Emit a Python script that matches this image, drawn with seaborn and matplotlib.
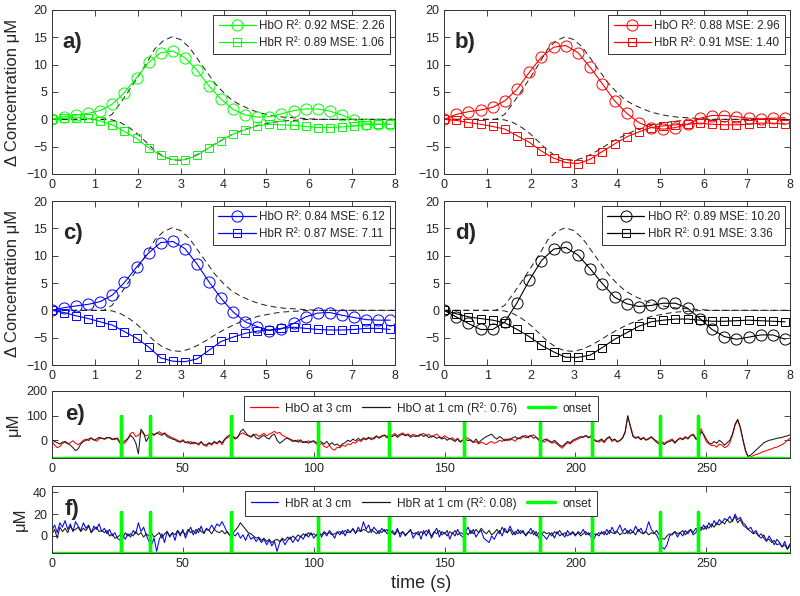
import numpy as np
import matplotlib
matplotlib.use("Agg")
import matplotlib.pyplot as plt
import seaborn as sns

# ---- HRF panels (a-d) ----
fs_hrf = 3.55                      # samples per second of the estimated HRF
t_hrf = np.arange(29) / fs_hrf
t_ref = np.arange(41) * 0.2        # "true" HRF, dashed

ref_hbo = [0, 0, 0, 0, 0, 0, 0,
           0.9, 3.0, 5.3, 7.7, 10.2, 12.9, 14.4, 15.1, 14.6, 13.2,
           11.0, 8.8, 6.6, 4.9, 3.5, 2.6, 1.9, 1.3, 0.9, 0.6,
           0.4, 0.3, 0.2, 0.1, 0.0,
           0, 0, 0, 0, 0, 0, 0, 0, 0]
ref_hbr = [0, 0, 0, 0, 0, 0, 0,
           -0.1, -0.6, -1.5, -2.7, -4.2, -5.7, -6.8, -7.4, -7.5, -7.1,
           -6.4, -5.5, -4.5, -3.6, -2.8, -2.1, -1.6, -1.1, -0.8, -0.5,
           -0.3, -0.2, -0.1, 0, 0,
           0, 0, 0, 0, 0, 0, 0, 0, 0]

a_hbo = [0, 0.5, 0.8, 1.1, 1.6, 2.8, 4.9, 7.6, 10.4, 12.2, 12.5, 11.3, 9.0, 6.1, 3.7,
         1.8, 0.8, 0.4, 0.5, 1.0, 1.6, 1.9, 1.9, 1.5, 0.8, -0.1, -0.8, -0.9, -0.9]
a_hbr = [0, 0.2, 0.3, 0.2, -0.3, -1.0, -2.2, -3.5, -5.2, -6.6, -7.4, -7.4, -6.6, -5.2, -3.9,
         -2.7, -1.9, -1.2, -0.9, -1.0, -1.1, -1.3, -1.5, -1.5, -1.4, -1.2, -1.0, -0.9, -0.9]
b_hbo = [0, 0.9, 1.4, 1.7, 2.2, 3.4, 5.5, 8.6, 11.4, 13.2, 13.5, 12.2, 9.5, 6.5, 3.4,
         1.1, -0.6, -1.5, -1.8, -1.5, -0.9, 0.2, 0.7, 0.7, 0.5, 0.2, 0.1, 0.2, 0.3]
b_hbr = [0, -0.2, -0.6, -0.9, -1.3, -1.8, -3.0, -4.2, -5.8, -7.1, -7.9, -8.1, -7.3, -5.9, -4.5,
         -3.2, -2.3, -1.5, -1.2, -1.0, -0.9, -0.7, -0.9, -1.0, -1.0, -0.9, -0.7, -0.7, -0.9]
c_hbo = [0, 0.5, 0.8, 1.1, 1.6, 2.8, 5.1, 7.9, 10.5, 12.4, 12.6, 11.3, 8.5, 5.2, 2.2,
         -0.3, -2.1, -3.0, -3.7, -3.4, -2.4, -1.2, -0.5, -0.4, -0.9, -1.3, -1.7, -1.8, -1.8]
c_hbr = [0, -0.4, -1.0, -1.5, -2.1, -2.7, -3.9, -5.1, -6.7, -8.7, -9.3, -9.4, -8.9, -7.3, -5.7,
         -4.9, -4.2, -3.8, -3.6, -3.3, -3.1, -3.3, -3.5, -3.6, -3.6, -3.5, -3.3, -3.3, -3.5]
d_hbo = [0, -1.2, -2.4, -3.5, -3.5, -2.1, 1.4, 5.5, 9.1, 11.2, 11.5, 10.1, 7.6, 4.9, 2.4,
         1.2, 0.7, 0.9, 1.3, 1.3, 0.4, -1.5, -3.5, -4.8, -5.3, -4.9, -4.5, -4.5, -5.3]
d_hbr = [0, -0.6, -1.2, -1.5, -1.8, -2.3, -3.5, -4.8, -6.4, -7.6, -8.6, -8.6, -8.2, -6.8, -5.3,
         -4.1, -2.9, -2.1, -1.8, -1.6, -1.6, -1.8, -2.0, -2.0, -1.9, -1.8, -1.9, -2.0, -2.1]

hrf_tags = ["a)", "b)", "c)", "d)"]
hrf_colors = ["#00ff00", "#ff0000", "#0000ff", "#000000"]
hbo_labels = ["HbO R²: 0.92 MSE: 2.26", "HbO R²: 0.88 MSE: 2.96",
              "HbO R²: 0.84 MSE: 6.12", "HbO R²: 0.89 MSE: 10.20"]
hbr_labels = ["HbR R²: 0.89 MSE: 1.06", "HbR R²: 0.91 MSE: 1.40",
              "HbR R²: 0.87 MSE: 7.11", "HbR R²: 0.91 MSE: 3.36"]

# ---- time series panels (e, f), one value per second ----
t_sec = np.arange(283)
onset_times = [26.3, 37.3, 68.5, 101.8, 128.6, 157.6, 186.3, 206.2, 232.3, 246.7]

hbo_3cm = [
    -5, -20, -30, -25, -12, -8, -15, -10, -2, -12,
    -18, -10, 0, 5, -2, 8, 3, -4, 6, 10,
    4, 8, 12, 6, 2, 10, -8, -15, -10, 5,
    28, 32, 15, 20, 35, 25, 18, 22, 30, 24,
    28, 35, 26, 30, 22, 15, 10, 5, 0, -5,
    2, -8, -12, -5, -15, -10, -20, -8, -18, -25,
    -12, -20, -8, -15, -5, -18, 2, 10, 15, 20,
    8, 15, 25, 30, 22, 18, 12, 20, 25, 15,
    22, 28, 18, 25, 30, 36, 28, 32, 20, 15,
    10, 5, 0, -5, 2, -8, -5, -10, -2, -8,
    -5, -15, -20, -12, -25, -30, -20, -35, -40, -28,
    -30, -20, -25, -15, -18, -8, -12, 0, -5, 5,
    2, 8, 10, 5, 15, 12, 18, 22, 15, 25,
    20, 28, 18, 25, 30, 22, 26, 18, 24, 20,
    15, 22, 28, 18, 25, 12, 20, 25, 15, 10,
    18, 12, 5, 10, 0, 8, -5, 2, 12, 8,
    -2, -10, -5, -15, -8, -12, -18, -10, -5, -12,
    -8, 0, -5, 5, -2, 8, 2, -4, 10, 5,
    15, 20, 10, 18, 22, 12, 5, -2, -8, 0,
    -5, -12, -8, -15, -25, -32, -20, -10, -15, -5,
    0, 5, 10, 15, 20, 12, 18, 5, -2, -8,
    0, -10, 5, 12, -5, 2, -8, -2, 8, 30,
    95, 60, 20, 10, 15, 5, 12, 2, 8, 15,
    5, -2, -10, -5, -12, -5, 0, 5, -8, 2,
    10, 5, 15, 8, 20, 25, 10, 5, 48, 20,
    -5, -15, -22, -20, -28, -15, -20, -30, -25, -10,
    20, 60, 82, 50, 0, -45, -70, -68, -62, -58,
    -55, -50, -45, -42, -38, -35, -30, -28, -22, -18,
    -10, 0, 8]
hbo_1cm = [
    0, -5, -10, -15, -8, -5, -12, -20, -30, -42,
    -35, -15, -5, 0, 5, 10, 0, 5, 12, 8,
    5, 12, 10, 2, 8, 5, -12, -8, -2, 8,
    20, 10, -10, -55, 45, 30, -5, 15, 25, 20,
    30, 25, 20, 28, 15, 10, 5, 2, -5, -8,
    -2, -10, -5, -15, -8, -12, -15, -5, -20, -18,
    -10, -15, -5, -12, -2, -10, 5, 15, 22, 15,
    5, 12, 35, 45, 30, 20, 15, 25, 10, 5,
    15, 20, 10, 5, 20, 25, 0, -12, -5, 5,
    8, 2, -5, 0, -8, 2, -10, -5, -12, -5,
    -2, -10, 0, -8, -15, -5, -18, -10, -20, -15,
    -25, -15, -10, 0, -5, 5, -2, 8, 0, 10,
    5, 12, 2, 10, 18, 8, 15, 20, 10, 18,
    15, 22, 12, 20, 25, 18, 22, 12, 18, 15,
    20, 25, 15, 22, 10, 18, 15, 8, 12, 5,
    10, 0, 8, 2, -5, 5, -8, 0, 5, -2,
    2, -8, 5, -10, 0, 8, 15, 20, 25, 12,
    5, 15, 8, -2, 5, 0, 10, 15, 5, 12,
    18, 10, 15, 20, 8, 12, 0, -5, 2, 5,
    -2, -8, 0, -10, -20, -25, -15, -5, -10, 0,
    5, 10, 15, 12, 18, 10, 15, 2, -5, -2,
    5, -5, 8, 15, 0, 5, -5, 0, 10, 35,
    100, 55, 15, 8, 12, 2, 10, 0, 5, 12,
    2, -8, -15, -10, -18, -8, -5, 0, -12, 0,
    8, 2, 12, 5, 18, 22, 5, 0, 35, 25,
    5, -10, -15, -5, -12, 0, -8, -20, -10, 0,
    25, 65, 85, 55, 5, -40, -65, -60, -50, -40,
    -30, -20, -10, -5, 0, 2, 5, 8, 10, 12,
    15, 18, 22]
hbr_3cm = [
    5, 10, 3, 12, 8, 14, 6, 11, 4, 13,
    9, 5, 12, 7, 10, 3, 9, 6, 11, 4,
    7, 2, 6, 0, 3, -2, -4, 1, -3, 2,
    -1, 5, 2, 12, 4, 8, 1, -5, -8, -2,
    -14, -3, 2, -6, 4, -1, 3, -4, 5, 0,
    6, -2, 4, 8, 1, 6, 3, 9, 2, 7,
    5, 10, 6, 11, 9, 13, 8, 3, 1, 2,
    0, 3, -2, 1, -4, 2, -3, -1, -5, -2,
    -6, -3, -8, -4, -9, -5, -14, -6, -3, -8,
    -4, -1, -6, -2, -5, 0, -3, 2, -1, 3,
    -2, 1, 4, -1, 3, 0, 5, 2, -2, 4,
    1, 5, 0, 6, 3, 7, 2, 8, 4, 13,
    6, 10, 3, 8, 5, 2, 7, 4, 6, 1,
    5, 2, 7, -1, 4, 0, 3, 6, -2, 2,
    4, -3, 5, 0, 6, -2, 3, 7, -1, 4,
    2, 5, -3, 3, 0, 6, 1, -1, 4, 8,
    2, 6, -1, 3, 5, -2, -4, -6, 0, -3,
    2, 5, 0, 7, 3, 9, 4, 1, 6, 2,
    5, 0, 3, 7, 1, 4, -2, 2, 0, -3,
    1, 3, -2, 4, 0, 2, -1, 5, 1, 3,
    0, 4, 2, 6, 1, 3, -1, -3, 2, 0,
    4, 1, 6, 2, 8, 3, 5, 10, 4, 7,
    2, 6, 3, 9, 4, 7, 2, 5, 13, 6,
    3, 1, -4, -10, -12, -8, 0, 2, 4, -1,
    3, 0, 5, 2, 6, 1, 3, 8, 5, 10,
    6, 12, 8, 14, 10, 15, 12, 16, 14, 18,
    13, 20, 15, 17, 12, 10, 6, 8, 3, 5,
    0, 2, -2, -5, 0, -4, -8, -3, -6, -10,
    -5, -12, -7]
hbr_1cm = [
    2, 6, -2, 8, 4, 7, 3, 9, 5, 6,
    8, 4, 7, 5, 9, 3, 6, 8, 4, 5,
    3, 5, 0, 2, -2, -1, 1, -2, 3, 0,
    2, 0, 4, 1, 3, -1, 2, 0, 3, -1,
    1, 3, -2, 2, 4, 0, 3, 1, 5, 2,
    4, 1, 6, 3, 5, 2, 7, 4, 3, 6,
    5, 2, 6, 4, 3, 5, 2, 4, 0, 2,
    5, 8, 12, 9, 6, 3, 2, 0, -2, -1,
    -4, -2, -5, -3, -6, -4, -3, -5, -2, -4,
    -1, -3, 0, -2, 1, -1, 2, 0, 3, 1,
    2, 0, 3, 1, 4, 2, 3, 1, 2, 3,
    4, 2, 5, 3, 4, 6, 3, 5, 4, 6,
    5, 3, 6, 4, 2, 5, 3, 6, 2, 4,
    3, 1, 5, 2, 4, 1, 3, 5, 2, 3,
    1, 4, 2, 5, 3, 0, 4, 2, 5, 1,
    3, 0, 4, 2, 5, 1, 3, 2, 4, 1,
    5, 2, 6, 3, 7, 4, 2, 5, 1, 3,
    6, 2, 8, 4, 3, 6, 1, 4, 2, 5,
    3, 1, 4, 2, 5, 0, 3, 1, 4, 2,
    3, 0, 4, 2, 5, 1, 3, 0, 2, 4,
    1, 3, 0, 2, 4, 1, 3, 2, 1, 3,
    2, 4, 1, 5, 3, 2, 4, 1, 3, 2,
    5, 2, 4, 1, 6, 3, 2, 4, 1, 3,
    2, 5, 1, -2, -3, 0, 2, 1, 4, 2,
    3, 5, 1, 4, 6, 3, 7, 5, 8, 6,
    9, 7, 11, 8, 12, 10, 13, 11, 15, 12,
    14, 18, 12, 15, 10, 8, 6, 4, 2, 3,
    0, -2, 1, -4, -3, -6, -4, -8, -7, -10,
    -8, -12, -9]

sns.set_theme(style="ticks")
plt.rcParams["font.family"] = ["Liberation Sans", "DejaVu Sans"]
plt.rcParams.update({
    "xtick.direction": "in", "ytick.direction": "in",
    "xtick.top": True, "ytick.right": True,
    "xtick.major.size": 4, "ytick.major.size": 4,
    "xtick.major.width": 0.6, "ytick.major.width": 0.6,
    "xtick.labelsize": 9, "ytick.labelsize": 9,
    "axes.linewidth": 0.7, "axes.edgecolor": "#333333",
})

fig = plt.figure(figsize=(8, 5.96), dpi=100)
W, H = 800, 596


def box(x0, y0, x1, y1):
    return [x0 / W, 1 - y1 / H, (x1 - x0) / W, (y1 - y0) / H]


hrf_axes = [fig.add_axes(box(52, 10, 395, 174)), fig.add_axes(box(444, 10, 790, 174)),
            fig.add_axes(box(52, 201, 395, 365)), fig.add_axes(box(444, 201, 790, 365))]
hrf_data = [(a_hbo, a_hbr), (b_hbo, b_hbr), (c_hbo, c_hbr), (d_hbo, d_hbr)]

for k, ax in enumerate(hrf_axes):
    hbo, hbr = hrf_data[k]
    col = hrf_colors[k]
    for ref in (ref_hbo, ref_hbr):
        sns.lineplot(x=t_ref, y=ref, ax=ax, color="k", lw=0.7, linestyle=(0, (6, 4)))
    sns.lineplot(x=t_hrf, y=hbo, ax=ax, color=col, lw=0.8, marker="o", markersize=8,
                 markerfacecolor="none", markeredgecolor=col, markeredgewidth=0.7,
                 label=hbo_labels[k])
    sns.lineplot(x=t_hrf, y=hbr, ax=ax, color=col, lw=0.8, marker="s", markersize=6.3,
                 markerfacecolor="none", markeredgecolor=col, markeredgewidth=0.7,
                 label=hbr_labels[k])
    ax.set_xlim(0, 8)
    ax.set_ylim(-10, 20)
    ax.set_xticks(range(0, 9))
    ax.set_yticks(range(-10, 21, 5))
    ax.set_xlabel("")
    ax.text(0.25, 14, hrf_tags[k], fontsize=16, fontweight="bold", va="center")
    leg = ax.legend(loc="upper right", fontsize=8.4, handlelength=3.2, fancybox=False,
                    framealpha=1, edgecolor="#333333", borderaxespad=0.4,
                    labelspacing=0.45, borderpad=0.45, handletextpad=0.3)
    leg.get_frame().set_linewidth(0.7)
    for hl in leg.get_lines():
        hl.set_color(col)
        hl.set_markeredgecolor(col)
        hl.set_linewidth(0.9)
    if k % 2 == 0:
        ax.set_ylabel("Δ Concentration μM", fontsize=12)


def onset_trace(base, top):
    xs, ys = [0], [base]
    for ot in onset_times:
        xs += [ot, ot, ot]
        ys += [base, top, base]
    xs.append(t_sec[-1])
    ys.append(base)
    return xs, ys


ax_e = fig.add_axes(box(52, 391, 790, 458))
ax_f = fig.add_axes(box(52, 486, 790, 553))

series = [
    (ax_e, "e)", hbo_3cm, hbo_1cm, "#ff0000", "HbO at 3 cm", "HbO at 1 cm (R²: 0.76)",
     (-72, 200), [0, 100, 200], 100, 103),
    (ax_f, "f)", hbr_3cm, hbr_1cm, "#0000ff", "HbR at 3 cm", "HbR at 1 cm (R²: 0.08)",
     (-15.5, 45.5), [0, 20, 40], 22, 24),
]
for ax, tag, s3, s1, col, lab3, lab1, ylim, yt, top, tag_y in series:
    sns.lineplot(x=t_sec, y=s3, ax=ax, color=col, lw=0.75, label=lab3)
    sns.lineplot(x=t_sec, y=s1, ax=ax, color="k", lw=0.75, label=lab1)
    ox, oy = onset_trace(ylim[0], top)
    sns.lineplot(x=ox, y=oy, ax=ax, color="#00ff00", lw=2.4, sort=False,
                 estimator=None, label="onset")
    ax.set_xlim(0, t_sec[-1])
    ax.set_ylim(*ylim)
    ax.set_yticks(yt)
    ax.set_xticks(range(0, 251, 50))
    ax.set_ylabel("μM", fontsize=12)
    ax.text(5, tag_y, tag, fontsize=16, fontweight="bold", va="center")
    leg = ax.legend(loc="upper center", ncol=3, fontsize=8.6, handlelength=2.3,
                    fancybox=False, framealpha=1, edgecolor="#333333",
                    borderaxespad=0.4, columnspacing=0.9, borderpad=0.5,
                    handletextpad=0.6)
    leg.get_frame().set_linewidth(0.7)
    leg_lines = leg.get_lines()
    leg_lines[0].set_color(col)
    leg_lines[0].set_linewidth(0.9)
    leg_lines[1].set_linewidth(0.9)

ax_e.set_xlabel("")
ax_f.set_xlabel("time (s)", fontsize=13)

fig.savefig("out.png", dpi=100)
